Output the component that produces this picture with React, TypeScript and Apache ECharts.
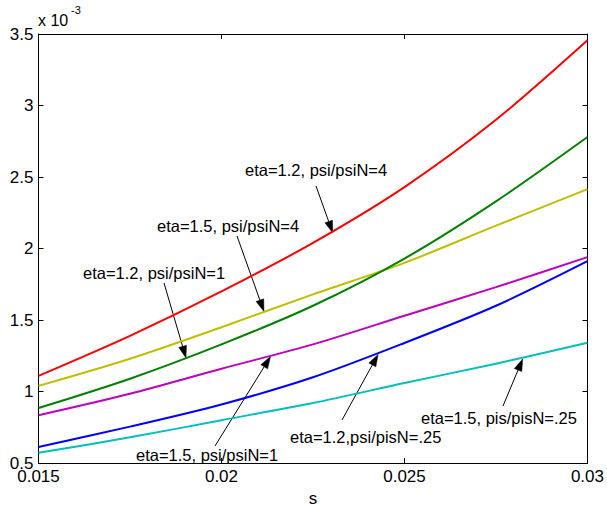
import React, { useEffect, useRef } from 'react';
import * as echarts from 'echarts';

// s values (x axis) at which the curves were read
const sValues = [0.015, 0.0175, 0.02, 0.0225, 0.025, 0.0275, 0.03];

// curve values, in units of 1e-3
const redValues = [1.11, 1.39, 1.7, 2.04, 2.43, 2.9, 3.456];
const yellowValues = [1.04, 1.23, 1.45, 1.68, 1.9, 2.16, 2.415];
const greenValues = [0.885, 1.09, 1.33, 1.6, 1.93, 2.33, 2.78];
const magentaValues = [0.835, 0.985, 1.16, 1.33, 1.53, 1.73, 1.94];
const blueValues = [0.612, 0.755, 0.91, 1.1, 1.34, 1.6, 1.912];
const cyanValues = [0.572, 0.68, 0.8, 0.92, 1.06, 1.195, 1.341];

const seriesNames = [
  'eta=1.2, psi/psiN=4',
  'eta=1.5, psi/psiN=4',
  'eta=1.2, psi/psiN=1',
  'eta=1.5, psi/psiN=1',
  'eta=1.2,psi/pisN=.25',
  'eta=1.5, pis/pisN=.25',
];
const seriesValues = [redValues, yellowValues, greenValues, magentaValues, blueValues, cyanValues];
const seriesColors = ['#ff0000', '#bfbf00', '#008000', '#bf00bf', '#0000ff', '#00bfbf'];

// annotation labels: text position (px), arrow tail (px), arrow tip (data)
const annotations = [
  { text: 'eta=1.2, psi/psiN=4', tx: 245, ty: 169, fx: 316, fy: 186, tipS: 0.02304, tipV: 2.11 },
  { text: 'eta=1.5, psi/psiN=4', tx: 157, ty: 225, fx: 237, fy: 236, tipS: 0.02116, tipV: 1.56 },
  { text: 'eta=1.2, psi/psiN=1', tx: 83, ty: 272, fx: 164, fy: 283, tipS: 0.01903, tipV: 1.235 },
  { text: 'eta=1.5, psi/psiN=1', tx: 136, ty: 454, fx: 215, fy: 446, tipS: 0.02134, tipV: 1.245 },
  { text: 'eta=1.2,psi/pisN=.25', tx: 290, ty: 436, fx: 342, fy: 420, tipS: 0.02428, tipV: 1.26 },
  { text: 'eta=1.5, pis/pisN=.25', tx: 421, ty: 417, fx: 503, fy: 406, tipS: 0.02823, tipV: 1.228 },
];

const FONT = 'Liberation Sans, Arial, sans-serif';

export default function App() {
  const ref = useRef<HTMLDivElement>(null);
  useEffect(() => {
    const chart = echarts.init(ref.current as HTMLDivElement, null, { renderer: 'svg' });
    const axisLine = { show: true, onZero: false, lineStyle: { color: '#000', width: 1 } };
    const axisTick = { show: true, inside: true, length: 5, lineStyle: { color: '#000', width: 1 } };
    const xFmt = (v: number) => String(parseFloat(v.toFixed(4)));
    const yFmt = (v: number) => String(parseFloat(v.toFixed(2)));
    chart.setOption({
      animation: false,
      backgroundColor: '#fff',
      grid: { left: 38.5, right: 19.5, top: 34, bottom: 44.5, containLabel: false },
      xAxis: [
        {
          type: 'value', min: 0.015, max: 0.03, interval: 0.005, position: 'bottom',
          name: 's', nameLocation: 'middle', nameGap: 24,
          nameTextStyle: { color: '#000', fontSize: 17, fontFamily: FONT },
          axisLine, axisTick, splitLine: { show: false },
          axisLabel: { color: '#000', fontSize: 17, fontFamily: FONT, margin: 5, formatter: xFmt },
        },
        {
          type: 'value', min: 0.015, max: 0.03, interval: 0.005, position: 'top',
          axisLine, axisTick, splitLine: { show: false }, axisLabel: { show: false },
        },
      ],
      yAxis: [
        {
          type: 'value', min: 0.5, max: 3.5, interval: 0.5, position: 'left',
          axisLine, axisTick, splitLine: { show: false },
          axisLabel: { color: '#000', fontSize: 17, fontFamily: FONT, margin: 5, formatter: yFmt },
        },
        {
          type: 'value', min: 0.5, max: 3.5, interval: 0.5, position: 'right',
          axisLine, axisTick, splitLine: { show: false }, axisLabel: { show: false },
        },
      ],
      series: seriesValues.map((vals, i) => ({
        name: seriesNames[i],
        type: 'line',
        xAxisIndex: 0,
        yAxisIndex: 0,
        data: vals.map((v, j) => [sValues[j], v]),
        symbol: 'none',
        smooth: 0.3,
        lineStyle: { color: seriesColors[i], width: 2 },
        itemStyle: { color: seriesColors[i] },
      })),
    });

    const graphics: any[] = [
      { type: 'text', x: 38, y: 12, style: { text: 'x 10', fill: '#000', fontSize: 16, fontFamily: FONT } },
      { type: 'text', x: 71, y: 4, style: { text: '-3', fill: '#000', fontSize: 11, fontFamily: FONT } },
    ];
    annotations.forEach((a) => {
      const tip = chart.convertToPixel({ xAxisIndex: 0, yAxisIndex: 0 }, [a.tipS, a.tipV]) as number[];
      const dx = tip[0] - a.fx;
      const dy = tip[1] - a.fy;
      const len = Math.sqrt(dx * dx + dy * dy);
      const ux = dx / len;
      const uy = dy / len;
      const headLen = 12;
      const hw = 4;
      const bx = tip[0] - ux * headLen;
      const by = tip[1] - uy * headLen;
      graphics.push({
        type: 'text', x: a.tx, y: a.ty - 8,
        style: { text: a.text, fill: '#000', fontSize: 16.5, fontFamily: FONT },
      });
      graphics.push({
        type: 'line',
        shape: { x1: a.fx, y1: a.fy, x2: bx, y2: by },
        style: { stroke: '#000', lineWidth: 1 },
      });
      graphics.push({
        type: 'polygon',
        shape: { points: [[tip[0], tip[1]], [bx - uy * hw, by + ux * hw], [bx + uy * hw, by - ux * hw]] },
        style: { fill: '#000', stroke: '#000', lineWidth: 0.5 },
      });
    });
    chart.setOption({ graphic: graphics });
    return () => chart.dispose();
  }, []);
  return <div ref={ref} style={{ position: 'fixed', left: 0, top: 0, width: 607, height: 512 }} />;
}
